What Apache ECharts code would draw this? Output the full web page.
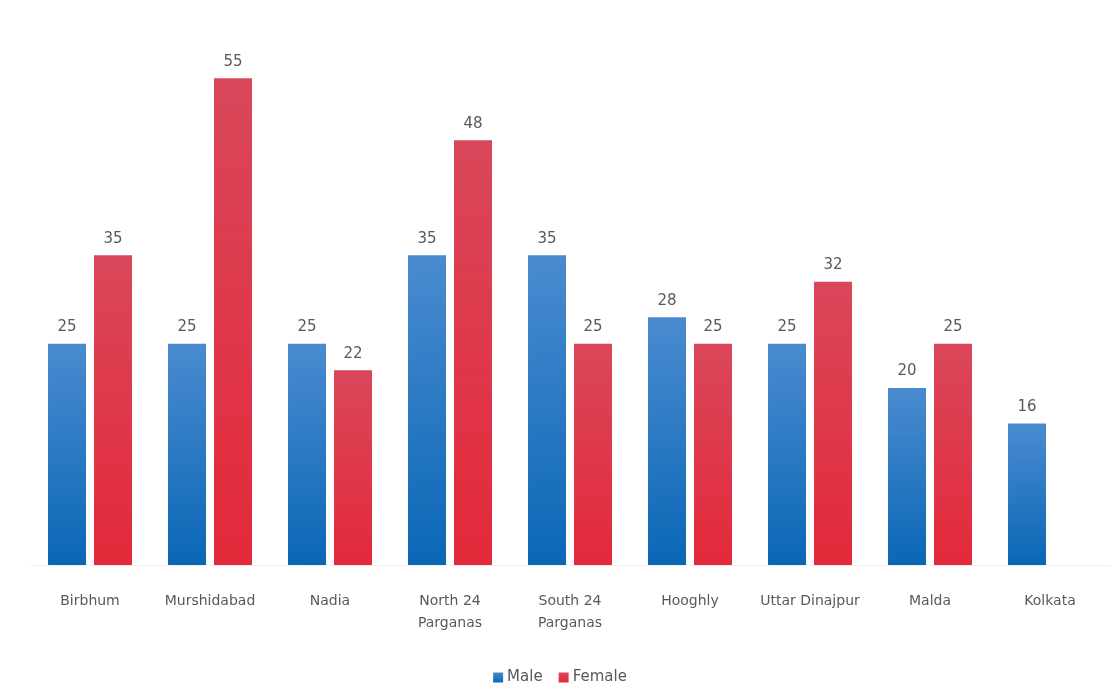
<!DOCTYPE html>
<html>
<head>
<meta charset="utf-8">
<script src="https://cdn.jsdelivr.net/npm/echarts@6/dist/echarts.min.js"></script>
<style>html,body{margin:0;padding:0;background:#fff;}#c{width:1120px;height:700px;}</style>
</head>
<body>
<div id="c"></div>
<script>
const categories = ['Birbhum', 'Murshidabad', 'Nadia', 'North 24\nParganas', 'South 24\nParganas', 'Hooghly', 'Uttar Dinajpur', 'Malda', 'Kolkata'];
const maleValues = [25, 25, 25, 35, 35, 28, 25, 20, 16];
const femaleValues = [35, 55, 22, 48, 25, 25, 32, 25, null];

const chart = echarts.init(document.getElementById('c'));
const font = '"DejaVu Sans", "Open Sans", sans-serif';
const grad = (top, bottom) => new echarts.graphic.LinearGradient(0, 0, 0, 1, [
  {offset: 0, color: top}, {offset: 1, color: bottom}
]);
chart.setOption({
  animation: false,
  backgroundColor: '#fff',
  grid: {left: 30, right: 10, top: 34, bottom: 135},
  legend: {
    bottom: 10, left: 'center',
    itemWidth: 10, itemHeight: 10, itemGap: 16,
    icon: 'rect',
    textStyle: {fontFamily: font, fontSize: 15, color: '#595959', padding: [0, 0, 0, -1]},
    data: ['Male', 'Female']
  },
  xAxis: {
    type: 'category', data: categories,
    axisLine: {show: true, lineStyle: {color: '#f0f0f0'}},
    axisTick: {show: false},
    axisLabel: {fontFamily: font, fontSize: 14, color: '#595959', margin: 25, lineHeight: 22, interval: 0}
  },
  yAxis: {type: 'value', min: 0, max: 60, show: false, splitLine: {show: false}},
  series: [
    {
      name: 'Male', type: 'bar', data: maleValues, barWidth: 38, barGap: '21%',
      itemStyle: {color: grad('#4a8bd0', '#0a67b6')},
      label: {show: true, position: 'top', distance: 9, fontFamily: font, fontSize: 15, color: '#595959'}
    },
    {
      name: 'Female', type: 'bar', data: femaleValues, barWidth: 38,
      itemStyle: {color: grad('#d9475a', '#e3293a')},
      label: {show: true, position: 'top', distance: 9, fontFamily: font, fontSize: 15, color: '#595959'}
    }
  ]
});
</script>
</body>
</html>
